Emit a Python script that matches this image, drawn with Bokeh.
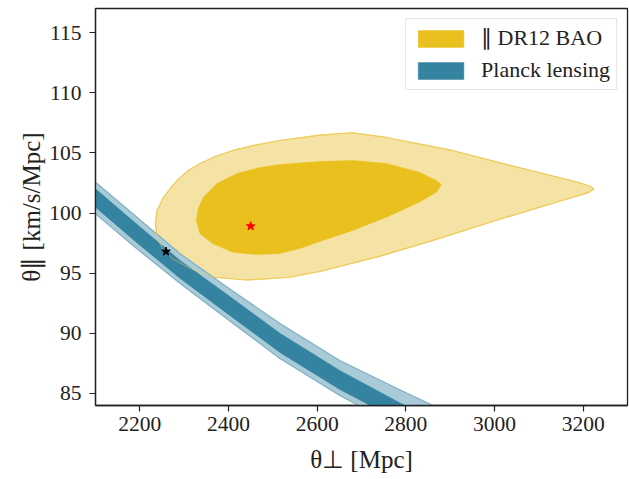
from bokeh.plotting import figure
from bokeh.models import Legend, LegendItem, FixedTicker, Range1d
from bokeh.embed import file_html
from bokeh.resources import INLINE

# ---- data ----
# BAO 2-sigma contour (outer)
bao2_x = [2235, 2239, 2253, 2270, 2284, 2308, 2336, 2370, 2410, 2460, 2516, 2606,
          2680, 2756, 2905, 3055, 3190, 3217, 3224, 3212, 3145, 3010, 2860, 2740,
          2606, 2538, 2442, 2365, 2314, 2273, 2251, 2239]
bao2_y = [99.13, 100.21, 101.29, 102.10, 102.70, 103.50, 104.12, 104.70, 105.20,
          105.65, 106.03, 106.48, 106.67, 106.28, 105.20, 103.78, 102.54, 102.20,
          102.00, 101.70, 100.96, 99.46, 97.71, 96.39, 95.14, 94.66, 94.43, 94.66,
          95.39, 96.22, 97.05, 97.96]
# BAO 1-sigma contour (inner)
bao1_x = [2327, 2332, 2343, 2374, 2419, 2471, 2516, 2606, 2680, 2756, 2830, 2869,
          2880, 2869, 2830, 2756, 2680, 2606, 2561, 2516, 2464, 2410, 2365, 2336]
bao1_y = [99.38, 100.38, 101.29, 102.45, 103.28, 103.78, 104.03, 104.28, 104.37,
          104.12, 103.39, 102.70, 102.37, 101.73, 100.90, 99.65, 98.55, 97.63,
          97.05, 96.63, 96.55, 96.74, 97.44, 98.27]
# Planck lensing band edges
pl_x = [2078, 2100, 2194, 2291, 2403, 2516, 2651, 2785, 2900]
pl2_hi = [103.26, 102.56, 99.63, 96.61, 93.68, 90.82, 87.74, 85.33, 83.33]
pl1_hi = [102.70, 102.01, 99.04, 96.05, 93.06, 90.00, 86.91, 84.25, 82.09]
pl1_lo = [101.18, 100.48, 97.51, 94.56, 91.48, 88.41, 85.33, 82.75, 80.59]
pl2_lo = [100.62, 99.93, 97.01, 94.14, 91.02, 87.91, 84.83, 82.26, 80.09]
# best-fit points
bao_best = (2450, 98.9)
pl_best = (2259, 96.8)

x_ticks = [2200, 2400, 2600, 2800, 3000, 3200]
y_ticks = [85, 90, 95, 100, 105, 110, 115]

YEL_D = "#EAC01E"
YEL_L = "#F5E3A5"
YEL_E = "#EFCB5A"
BLU_D = "#3483A0"
BLU_L = "#A8CBD7"
BLU_E = "#7FB0C4"
INK = "#222222"
FONT = "Liberation Serif"

p = figure(width=629, height=479, x_range=Range1d(2100, 3300), y_range=Range1d(84, 117),
           output_backend="svg", toolbar_location=None,
           min_border_left=95, min_border_right=2, min_border_top=8, min_border_bottom=74)

r_b2 = p.patch(bao2_x, bao2_y, fill_color=YEL_L, line_color=YEL_E, line_width=1.2)
r_b1 = p.patch(bao1_x, bao1_y, fill_color=YEL_D, line_color=YEL_D, line_width=0.5)

r_p2 = p.patch(pl_x + pl_x[::-1], pl2_hi + pl2_lo[::-1], fill_color=BLU_L,
               line_color=BLU_E, line_width=1.2)
r_p1 = p.patch(pl_x + pl_x[::-1], pl1_hi + pl1_lo[::-1], fill_color=BLU_D,
               line_color=BLU_D, line_width=0.5)
# faint outline of BAO contour visible over the band
p.patch(bao2_x, bao2_y, fill_alpha=0, line_color=YEL_E, line_width=1.0, line_alpha=0.6)

p.scatter([bao_best[0]], [bao_best[1]], marker="star", size=9, color="red")
p.scatter([pl_best[0]], [pl_best[1]], marker="star", size=9, color="black")

p.xgrid.visible = False
p.ygrid.visible = False
p.outline_line_color = INK
p.outline_line_width = 1.3

p.xaxis.ticker = FixedTicker(ticks=x_ticks)
p.yaxis.ticker = FixedTicker(ticks=y_ticks)
for ax in (p.xaxis[0], p.yaxis[0]):
    ax.axis_line_color = INK
    ax.axis_line_width = 1.3
    ax.major_tick_out = 6
    ax.major_tick_in = 0
    ax.major_tick_line_color = INK
    ax.major_tick_line_width = 1.2
    ax.minor_tick_out = 0
    ax.minor_tick_in = 0
    ax.major_label_text_font = FONT
    ax.major_label_text_font_size = "21.5px"
    ax.major_label_text_color = INK
    ax.axis_label_text_font = FONT
    ax.axis_label_text_font_size = "25px"
    ax.axis_label_text_font_style = "normal"
    ax.axis_label_text_color = INK
p.xaxis.major_label_standoff = 5
p.yaxis.major_label_standoff = 8
p.xaxis.axis_label = "θ⊥ [Mpc]"
p.yaxis.axis_label = "θ∥ [km/s/Mpc]"
p.xaxis.axis_label_standoff = 12
p.yaxis.axis_label_standoff = 1

legend = Legend(items=[LegendItem(label="∥ DR12 BAO", renderers=[r_b1]),
                       LegendItem(label="Planck lensing", renderers=[r_p1])],
                location="top_right", margin=10, padding=6, spacing=6,
                glyph_width=57, glyph_height=21, label_height=22, label_standoff=12,
                label_text_font=FONT, label_text_font_size="22px",
                label_text_color=INK,
                border_line_color="#cccccc", border_line_width=1,
                background_fill_alpha=0.8)
p.add_layout(legend)

open("out.html", "w").write(file_html(p, INLINE))
